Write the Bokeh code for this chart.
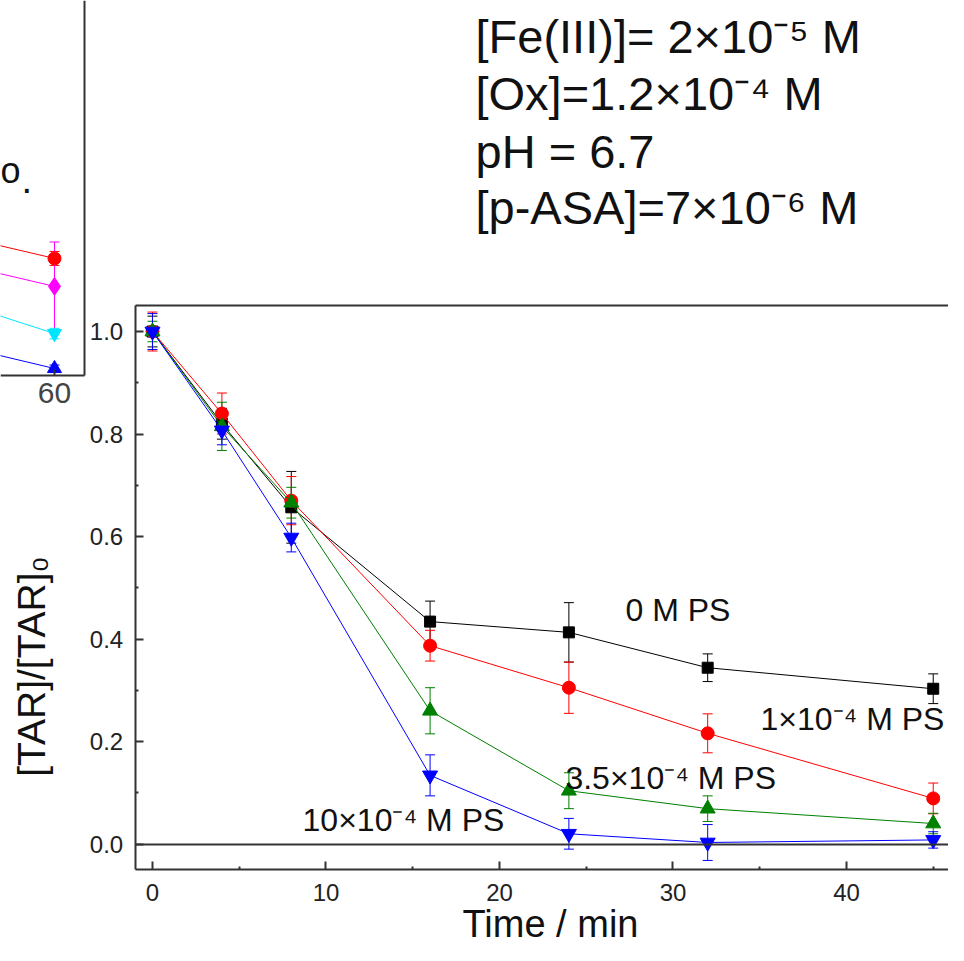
from bokeh.plotting import figure
from bokeh.models import (ColumnDataSource, Whisker, TeeHead, Label,
                          FixedTicker, LinearAxis, Range1d, PrintfTickFormatter)
from bokeh.embed import file_html
from bokeh.resources import INLINE

FONT = "Liberation Sans"
AX = "#333333"

# ---------------- main data ----------------
time_min = [0, 4, 8, 16, 24, 32, 45]
ps_0 = [1.0, 0.82, 0.657, 0.434, 0.413, 0.344, 0.303]
ps_0_err = [0.03, 0.03, 0.07, 0.04, 0.058, 0.027, 0.029]
ps_1 = [1.0, 0.84, 0.67, 0.387, 0.305, 0.216, 0.089]
ps_1_err = [0.038, 0.04, 0.047, 0.03, 0.05, 0.038, 0.03]
ps_35 = [1.0, 0.815, 0.666, 0.26, 0.104, 0.069, 0.04]
ps_35_err = [0.02, 0.047, 0.03, 0.045, 0.035, 0.025, 0.02]
ps_10 = [1.0, 0.807, 0.598, 0.134, 0.02, 0.003, 0.008]
ps_10_err = [0.035, 0.028, 0.028, 0.04, 0.03, 0.035, 0.016]

series_names = ["0 M PS", "1×10⁻⁴ M PS", "3.5×10⁻⁴ M PS", "10×10⁻⁴ M PS"]

x_ticks = [0, 10, 20, 30, 40]
x_minor = [5, 15, 25, 35, 45]
y_ticks = [0.0, 0.2, 0.4, 0.6, 0.8, 1.0]
y_minor = [0.1, 0.3, 0.5, 0.7, 0.9]
x_lim = (-1.0, 45.88)
y_lim = (-0.05, 1.05)

conditions = ["[Fe(III)]= 2×10⁻⁵ M", "[Ox]=1.2×10⁻⁴ M", "pH = 6.7", "[p-ASA]=7×10⁻⁶ M"]

# ---------------- inset data (only its right end is visible) ----------------
inset_time = [45, 60]
inset_red = [0.395, 0.335]
inset_red_err = [0.02, 0.02]
inset_magenta = [0.315, 0.255]
inset_magenta_err = [0.127, 0.127]
inset_cyan = [0.203, 0.12]
inset_cyan_err = [0.015, 0.015]
inset_blue = [0.081, 0.02]
inset_blue_err = [0.01, 0.01]
inset_x_ticks = [40, 50, 60]
inset_x_lim = (50.97, 65.0)
inset_y_lim = (0.0, 1.073)

# one canvas; the frame covers all of it and the axes are pinned with fixed_location
p = figure(width=948, height=945,
           x_range=Range1d(-8.761, 45.88), y_range=Range1d(-0.1980, 1.6459),
           output_backend="svg", toolbar_location=None,
           x_axis_location=None, y_axis_location=None,
           min_border_left=0, min_border_right=0, min_border_top=0, min_border_bottom=0)
p.extra_x_ranges = {"inset": Range1d(50.97, 209.5)}
p.extra_y_ranges = {"inset": Range1d(-1.631, 1.073)}
p.grid.visible = False
p.outline_line_color = None
p.background_fill_color = "white"
p.border_fill_color = "white"


def add_series(x, y, err, color, marker, size, rx="default", ry="default"):
    src = ColumnDataSource(dict(x=x, y=y,
                                upper=[a + b for a, b in zip(y, err)],
                                lower=[a - b for a, b in zip(y, err)]))
    w = Whisker(source=src, base="x", upper="upper", lower="lower",
                line_color=color, line_width=1,
                x_range_name=rx, y_range_name=ry,
                upper_head=TeeHead(size=10, line_color=color, line_width=1),
                lower_head=TeeHead(size=10, line_color=color, line_width=1))
    p.add_layout(w)
    p.line("x", "y", source=src, line_color=color, line_width=1,
           x_range_name=rx, y_range_name=ry)
    p.scatter("x", "y", source=src, marker=marker, size=size,
              fill_color=color, line_color=color,
              x_range_name=rx, y_range_name=ry)


def make_axis(side, loc, bounds, ticks=(), minor=(), font_size="24px",
              label_color="#222222", standoff=10, rx="default", ry="default",
              tick_in=8, minor_in=3):
    ax = LinearAxis(ticker=FixedTicker(ticks=list(ticks), minor_ticks=list(minor)),
                    fixed_location=loc, bounds=bounds,
                    x_range_name=rx, y_range_name=ry)
    ax.axis_line_color = AX
    ax.axis_line_width = 2
    ax.major_tick_line_color = AX
    ax.minor_tick_line_color = AX
    ax.major_tick_line_width = 2
    ax.minor_tick_line_width = 2
    ax.major_tick_in = tick_in
    ax.major_tick_out = 0
    ax.minor_tick_in = minor_in
    ax.minor_tick_out = 0
    ax.major_label_standoff = standoff
    ax.major_label_text_font = FONT
    ax.major_label_text_font_size = font_size
    ax.major_label_text_color = label_color
    p.add_layout(ax, side)
    return ax


def text_label(x, y, text, size, units="screen", align="left", angle=0):
    p.add_layout(Label(x=x, y=y, x_units=units, y_units=units, text=text,
                       angle=angle, angle_units="deg",
                       text_align=align, text_baseline="middle",
                       text_font=FONT, text_font_size=f"{size}px",
                       text_color="#111111"))


# ---- inset (partly visible, top-left) ----
make_axis("below", inset_y_lim[0], inset_x_lim, ticks=inset_x_ticks,
          font_size="30px", label_color="#444444", standoff=8,
          rx="inset", ry="inset", tick_in=6)
make_axis("right", inset_x_lim[1], inset_y_lim, rx="inset", ry="inset",
          tick_in=0, minor_in=0)

add_series(inset_time, inset_red, inset_red_err, "#ff0000", "circle", 13, "inset", "inset")
add_series(inset_time, inset_magenta, inset_magenta_err, "#ff00ff", "diamond", 18, "inset", "inset")
add_series(inset_time, inset_cyan, inset_cyan_err, "#00e5ff", "inverted_triangle", 14, "inset", "inset")
add_series(inset_time, inset_blue, inset_blue_err, "#0000ff", "triangle", 14, "inset", "inset")

text_label(0, 775, "o", 36)
text_label(21, 766, ".", 38)

# ---- main axes and frame ----
make_axis("below", y_lim[0], x_lim, ticks=x_ticks, minor=x_minor, standoff=14)
yax = make_axis("left", x_lim[0], y_lim, ticks=y_ticks, minor=y_minor, standoff=12)
yax.formatter = PrintfTickFormatter(format="%.1f")
make_axis("above", y_lim[1], x_lim, tick_in=0, minor_in=0)
make_axis("below", 0.0, x_lim, tick_in=0, minor_in=0)   # y = 0 reference line

add_series(time_min, ps_0, ps_0_err, "#000000", "square", 11)
add_series(time_min, ps_1, ps_1_err, "#ff0000", "circle", 13)
add_series(time_min, ps_35, ps_35_err, "#008000", "triangle", 15)
add_series(time_min, ps_10, ps_10_err, "#0000ff", "inverted_triangle", 15)

# series annotations (data units: left edge / vertical centre of the text box)
label_x = [27.26, 35.04, 23.8, 8.65]
label_y = [0.4557, 0.2431, 0.1297, 0.0477]
for t, lx, ly in zip(series_names, label_x, label_y):
    text_label(lx, ly, t, 32, units="data")

# condition text block
cond_y = [909, 852, 794, 738]
for t, cy in zip(conditions, cond_y):
    text_label(475, cy, t, 47)

# axis titles
text_label(550, 22, "Time / min", 38, align="center")
text_label(31, 279, "[TAR]/[TAR]₀", 39, align="center", angle=90)

open("out.html", "w").write(file_html(p, INLINE))
